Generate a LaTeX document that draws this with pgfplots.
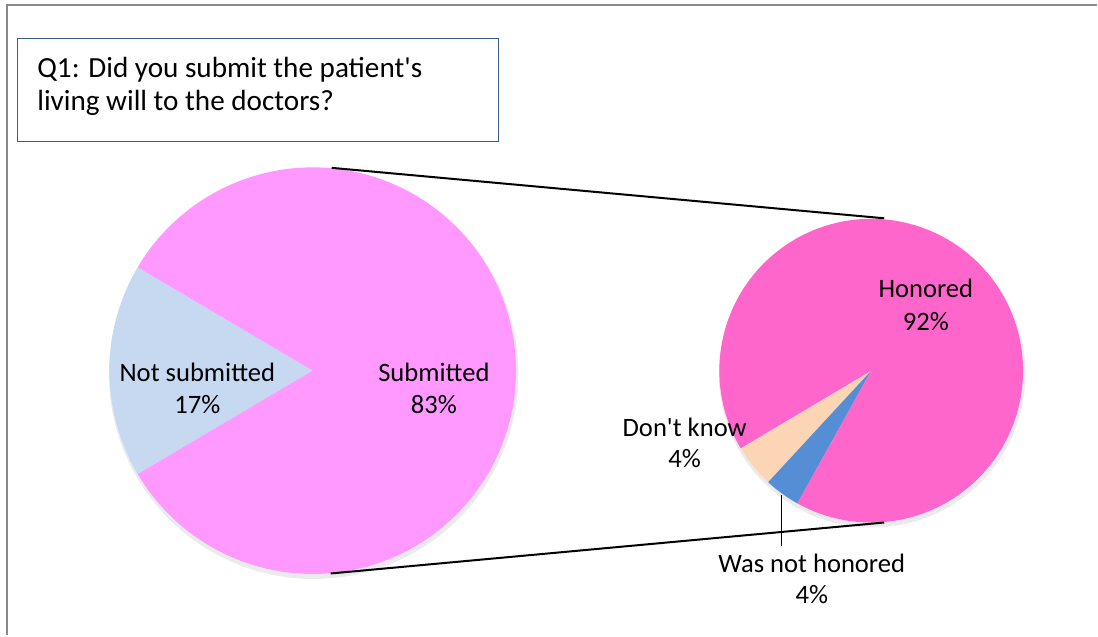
\documentclass[border=0pt]{standalone}
\usepackage{fontspec}
\setmainfont{Carlito}[Ligatures=TeXOff]
\usepackage{pgfplots}
\usepackage{pgfplotstable}
\pgfplotsset{compat=1.18}
\definecolor{subm}{HTML}{FF99FF}
\definecolor{notsub}{HTML}{C6D9F1}
\definecolor{honored}{HTML}{FF66CC}
\definecolor{dontknow}{HTML}{FCD5B5}
\definecolor{notHon}{HTML}{558ED5}
\definecolor{framegray}{HTML}{898989}
\definecolor{boxblue}{HTML}{385D8A}
% first pie: Q1
\pgfplotstableread{
label value
Submitted 83
NotSubmitted 17
}\pieA
% second pie: breakdown of Submitted
\pgfplotstableread{
label value
Honored 91.6
DontKnow 4.6
WasNotHonored 3.8
}\pieB
\pgfplotstablegetelem{1}{value}\of\pieA\pgfmathsetmacro\vNot{\pgfplotsretval}%
\pgfmathsetmacro\aNs{180-1.8*\vNot}%
\pgfmathsetmacro\aNe{180+1.8*\vNot}%
\pgfmathsetmacro\aSe{\aNs+360}%
\pgfplotstablegetelem{1}{value}\of\pieB\pgfmathsetmacro\vD{\pgfplotsretval}%
\pgfplotstablegetelem{2}{value}\of\pieB\pgfmathsetmacro\vW{\pgfplotsretval}%
\def\bStart{210.7}%
\pgfmathsetmacro\bD{\bStart+3.6*\vD}%
\pgfmathsetmacro\bW{\bD+3.6*\vW}%
\pgfmathsetmacro\bH{\bStart+360}%
\tikzset{lbl/.style={font=\fontsize{13.3}{16}\selectfont, inner sep=0pt},
         ttl/.style={font=\fontsize{14.6}{17}\selectfont, inner sep=0pt}}
\begin{document}%
\begin{tikzpicture}[font=\fontsize{13}{16}\selectfont]
\begin{axis}[
  x=0.5pt, y=0.5pt,
  xmin=0, xmax=1098, ymin=0, ymax=636,
  hide axis, clip=false,
]
\path (rel axis cs:0,0) rectangle (rel axis cs:1,1);
% outer frame (top and left edges)
\addplot[framegray, line width=1pt] coordinates {(7,0) (7,631) (1098,631)};
% title box
\addplot[boxblue, line width=0.75pt, fill=white] coordinates {(17.5,494.5) (499,494.5) (499,597.5) (17.5,597.5) (17.5,494.5)};
\node[ttl, anchor=base west] at (axis cs:37,558.5) {Q1: Did you submit the patient's};
\node[ttl, anchor=base west] at (axis cs:37,525.5) {living will to the doctors?};
% shadows
\addplot[fill=black, fill opacity=0.08, draw=none, domain=0:360, samples=150, variable=\t] ({314+205*cos(\t)},{261.5+205*sin(\t)}) -- cycle;
\addplot[fill=black, fill opacity=0.08, draw=none, domain=0:360, samples=150, variable=\t] ({873+153.5*cos(\t)},{261.5+153.5*sin(\t)}) -- cycle;
% left pie
\addplot[fill=notsub, draw=none, domain=\aNs:\aNe, samples=60, variable=\t] ({313+203.5*cos(\t)},{265+203.5*sin(\t)}) -- (axis cs:313,265) -- cycle;
\addplot[fill=subm, draw=none, domain=\aNe:\aSe, samples=200, variable=\t] ({313+203.5*cos(\t)},{265+203.5*sin(\t)}) -- (axis cs:313,265) -- cycle;
% right pie
\addplot[fill=dontknow, draw=none, domain=\bStart:\bD, samples=30, variable=\t] ({872+152*cos(\t)},{265+152*sin(\t)}) -- (axis cs:872,265) -- cycle;
\addplot[fill=notHon, draw=none, domain=\bD:\bW, samples=30, variable=\t] ({872+152*cos(\t)},{265+152*sin(\t)}) -- (axis cs:872,265) -- cycle;
\addplot[fill=honored, draw=none, domain=\bW:\bH, samples=200, variable=\t] ({872+152*cos(\t)},{265+152*sin(\t)}) -- (axis cs:872,265) -- cycle;
% connector lines
\addplot[black, line width=1pt] coordinates {(332,468) (885,417.5)};
\addplot[black, line width=1pt] coordinates {(331,62) (885,113)};
% leader line
\addplot[black, line width=0.75pt] coordinates {(782,141) (782,89)};
% labels
\node[lbl, anchor=base] at (axis cs:197.5,254.3) {Not submitted};
\node[lbl, anchor=base] at (axis cs:197.5,222) {17\%};
\node[lbl, anchor=base] at (axis cs:434.3,254.3) {Submitted};
\node[lbl, anchor=base] at (axis cs:434.3,222) {83\%};
\node[lbl, anchor=base] at (axis cs:926.7,338.7) {Honored};
\node[lbl, anchor=base] at (axis cs:926.7,305.3) {92\%};
\node[lbl, anchor=base] at (axis cs:685.3,199.3) {Don't know};
\node[lbl, anchor=base] at (axis cs:685.3,167.7) {4\%};
\node[lbl, anchor=base] at (axis cs:812.5,63.3) {Was not honored};
\node[lbl, anchor=base] at (axis cs:812.5,32) {4\%};
\end{axis}
\end{tikzpicture}%
\end{document}
